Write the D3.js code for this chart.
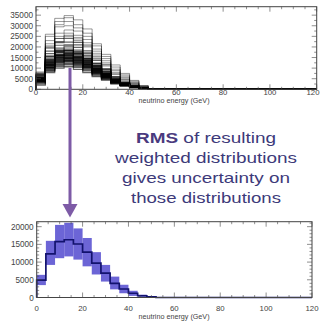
<!DOCTYPE html>
<html>
<head>
<meta charset="utf-8">
<script src="https://cdn.jsdelivr.net/npm/d3@7"></script>
<style>
  body { margin: 0; background: #fff; }
  svg { display: block; }
</style>
</head>
<body>
<svg id="chart" width="320" height="321"></svg>
<script>
// bin edges in GeV (4 GeV bins)
const binEdges = [0, 4, 8, 12, 16, 20, 24, 28, 32, 36, 40, 44, 48, 52];

// top panel: re-weighted universes far from the nominal (bins 0..48 GeV)
const outlierUniverses = [
  [8200, 26000, 33500, 34800, 32800, 28500, 21500, 16500, 11500, 7500, 4200, 1800],
  [7800, 25000, 32000, 33800, 30500, 26500, 20500, 15500, 10500, 6800, 3800, 1600],
  [7500, 23000, 30500, 32000, 29000, 25000, 19000, 14500, 9500, 6200, 3300, 1400],
  [7200, 21500, 29500, 30000, 27500, 23500, 18000, 13500, 8800, 5600, 3000, 1200],
  [6800, 20500, 26500, 28000, 25500, 22000, 17000, 12500, 8000, 5000, 2700, 1100],
  [6600, 19500, 25000, 26500, 24500, 21000, 16200, 11800, 7400, 4600, 2400, 1000],
  [6000, 20000, 24000, 25000, 23800, 20500, 15500, 11500, 7000, 4300, 2200, 900],
  [7200, 19500, 24000, 25500, 23000, 20000, 14800, 11000, 6000, 3800, 1800, 700]
];

// top panel: universes close to the nominal
const coreUniverses = [
  [7000, 18000, 22500, 24000, 22200, 18200, 14300, 9800, 5900, 3400, 1700, 600],
  [6400, 16800, 22000, 22300, 21000, 17500, 13600, 9300, 5600, 3200, 1600, 700],
  [6300, 15700, 20800, 21000, 19800, 16800, 12400, 9100, 5100, 3100, 1500, 600],
  [5800, 15500, 19400, 20400, 18500, 16000, 12100, 8400, 5000, 2900, 1500, 600],
  [5600, 14800, 18600, 19500, 17800, 15300, 11400, 8300, 4700, 2900, 1400, 550],
  [5500, 14000, 18300, 18600, 17500, 14600, 11300, 7800, 4600, 2700, 1350, 550],
  [5300, 14300, 18000, 18400, 17100, 14500, 11000, 7600, 4500, 2680, 1320, 530],
  [5400, 13500, 17800, 18000, 16900, 14000, 10900, 7500, 4400, 2650, 1300, 520],
  [5200, 13800, 17400, 18200, 16700, 14300, 10700, 7700, 4500, 2650, 1300, 500],
  [5100, 13200, 17200, 17500, 16400, 13700, 10500, 7400, 4300, 2600, 1250, 520],
  [5000, 13000, 16500, 17200, 15800, 13500, 10100, 7300, 4200, 2500, 1250, 500],
  [4950, 12800, 16300, 17000, 15600, 13300, 10000, 7100, 4150, 2480, 1230, 500],
  [4800, 12600, 16000, 16700, 15300, 13000, 9900, 7000, 4100, 2450, 1200, 500],
  [4750, 12450, 16000, 16500, 15200, 12900, 9800, 6950, 4050, 2420, 1210, 490],
  [4700, 12300, 15800, 16300, 15100, 12800, 9700, 6900, 4000, 2400, 1200, 480],
  [4600, 12000, 15600, 15900, 14900, 12500, 9500, 6700, 3950, 2350, 1150, 470],
  [4550, 11700, 15300, 15800, 14600, 12400, 9400, 6650, 3870, 2320, 1150, 465],
  [4500, 11900, 15100, 15700, 14400, 12300, 9300, 6600, 3800, 2300, 1150, 460],
  [4400, 11500, 14900, 15200, 14300, 11900, 9200, 6400, 3750, 2250, 1100, 450],
  [4350, 11400, 14700, 15000, 14000, 11800, 9000, 6350, 3720, 2220, 1100, 445],
  [4300, 11300, 14600, 14900, 13800, 11700, 8900, 6300, 3700, 2200, 1100, 440],
  [4200, 11000, 14200, 14600, 13600, 11500, 8700, 6200, 3600, 2150, 1050, 430],
  [4150, 10950, 14000, 14500, 13400, 11350, 8650, 6100, 3550, 2120, 1050, 425],
  [4100, 10900, 13800, 14400, 13200, 11200, 8600, 6000, 3500, 2100, 1050, 420],
  [4000, 10500, 13600, 14000, 13000, 11000, 8300, 5900, 3450, 2050, 1000, 410],
  [3900, 10300, 13200, 13700, 12600, 10700, 8200, 5700, 3350, 2000, 1000, 400],
  [3850, 10200, 13000, 13500, 12500, 10600, 8000, 5650, 3320, 1980, 980, 395],
  [3800, 10100, 12900, 13300, 12400, 10500, 7900, 5600, 3300, 1950, 950, 390],
  [3700, 9900, 12600, 13000, 12000, 10300, 7700, 5500, 3200, 1900, 950, 380],
  [3500, 9500, 12300, 12800, 11700, 10000, 7500, 5300, 3100, 1850, 900, 370],
  [3300, 9200, 11800, 12100, 11300, 9600, 7300, 5100, 3000, 1800, 880, 350],
  [3000, 8900, 11300, 11800, 10800, 9200, 7000, 4900, 2850, 1700, 850, 330],
  [2600, 8500, 10700, 11000, 10300, 8700, 6500, 4600, 2700, 1600, 800, 300],
  [2000, 7900, 10000, 10600, 9400, 7900, 6000, 4300, 2500, 1500, 700, 280]
];

// bottom panel: central value and RMS band (bins 0..52 GeV)
const centralValues = [4900, 12300, 15800, 16300, 15100, 12800, 9700, 6900, 4000, 2400, 1200, 500, 150];
const bandHigh = [6400, 16000, 20500, 21100, 19500, 16800, 12800, 9200, 5900, 3600, 1900, 800, 300];
const bandLow  = [3500, 9200, 11100, 11600, 10700, 8800, 6500, 4500, 2300, 1200, 450, 200, 50];

const xTicks = [0, 20, 40, 60, 80, 100, 120];
const yTicksTop = [0, 5000, 10000, 15000, 20000, 25000, 30000, 35000];
const yTicksBottom = [0, 5000, 10000, 15000, 20000];
const xTitle = "neutrino energy (GeV)";
const noteLines = ["of resulting", "weighted distributions", "gives uncertainty on", "those distributions"];

const svg = d3.select("#chart");
const axisColor = "#444";
const font = "'Liberation Sans', Arial, sans-serif";

function drawFrame(g, x, y, yTicks, yMinorStep, tickDy, titleDy) {
  const [x0, x1] = x.range();
  const [y0, y1] = y.range();
  // inward ticks on all four sides
  const yMax = y.domain()[1];
  for (let v = 0; v <= yMax; v += yMinorStep) {
    const len = yTicks.includes(v) ? 5 : 2.5;
    g.append("line").attr("x1", x0).attr("x2", x0 + len).attr("y1", y(v)).attr("y2", y(v))
      .attr("stroke", axisColor).attr("stroke-width", 0.6);
    g.append("line").attr("x1", x1).attr("x2", x1 - len).attr("y1", y(v)).attr("y2", y(v))
      .attr("stroke", axisColor).attr("stroke-width", 0.6);
  }
  for (let v = 0; v <= 120; v += 5) {
    const len = xTicks.includes(v) ? 5 : 2.5;
    g.append("line").attr("x1", x(v)).attr("x2", x(v)).attr("y1", y0).attr("y2", y0 - len)
      .attr("stroke", axisColor).attr("stroke-width", 0.6);
    g.append("line").attr("x1", x(v)).attr("x2", x(v)).attr("y1", y1).attr("y2", y1 + len)
      .attr("stroke", axisColor).attr("stroke-width", 0.6);
  }
  g.append("rect").attr("x", x0).attr("y", y1).attr("width", x1 - x0).attr("height", y0 - y1)
    .attr("fill", "none").attr("stroke", axisColor).attr("stroke-width", 1);

  g.selectAll(".yl").data(yTicks).join("text")
    .attr("x", x0 - 3).attr("y", d => y(d) + 3)
    .attr("text-anchor", "end").attr("font-family", font).attr("font-size", 8.2)
    .attr("fill", "#444").text(d => d);
  g.selectAll(".xl").data(xTicks).join("text")
    .attr("x", d => Math.min(x(d), 313)).attr("y", y0 + tickDy)
    .attr("text-anchor", "middle").attr("font-family", font).attr("font-size", 7.8)
    .attr("fill", "#444").text(d => d);
  g.append("text").attr("x", 174).attr("y", y0 + titleDy)
    .attr("text-anchor", "middle").attr("font-family", font).attr("font-size", 7.2)
    .attr("fill", "#444").text(xTitle);
}

// step outline from bin values
function stepPoints(values) {
  const pts = [[binEdges[0], 0]];
  values.forEach((v, i) => pts.push([binEdges[i], v]));
  pts.push([binEdges[values.length], 0]);
  pts.push([120, 0]);
  return pts;
}

// ---------- top panel ----------
const xTop = d3.scaleLinear().domain([0, 120]).range([36, 316.7]);
const yTop = d3.scaleLinear().domain([0, 39000]).range([89.3, 6.7]);
const gTop = svg.append("g");

const lineTop = d3.line().x(d => xTop(d[0])).y(d => yTop(d[1])).curve(d3.curveStepAfter);
gTop.selectAll(".out").data(outlierUniverses).join("path")
  .attr("d", d => lineTop(stepPoints(d)))
  .attr("fill", "none").attr("stroke", "#000").attr("stroke-opacity", 0.4).attr("stroke-width", 1);
gTop.selectAll(".core").data(coreUniverses).join("path")
  .attr("d", d => lineTop(stepPoints(d)))
  .attr("fill", "none").attr("stroke", "#000").attr("stroke-opacity", 0.6).attr("stroke-width", 1.2);

drawFrame(gTop, xTop, yTop, yTicksTop, 2500, 5.8, 14);

// ---------- bottom panel ----------
const xBot = d3.scaleLinear().domain([0, 120]).range([36.7, 312]);
const yBot = d3.scaleLinear().domain([0, 21400]).range([297.5, 221.7]);
const gBot = svg.append("g");

gBot.selectAll(".band").data(centralValues).join("rect")
  .attr("x", (d, i) => xBot(binEdges[i]))
  .attr("width", (d, i) => xBot(binEdges[i + 1]) - xBot(binEdges[i]))
  .attr("y", (d, i) => yBot(bandHigh[i]))
  .attr("height", (d, i) => yBot(bandLow[i]) - yBot(bandHigh[i]))
  .attr("fill", "#5c54d2").attr("fill-opacity", 0.9);

const lineBot = d3.line().x(d => xBot(d[0])).y(d => yBot(d[1])).curve(d3.curveStepAfter);
gBot.append("path").attr("d", lineBot(stepPoints(centralValues)))
  .attr("fill", "none").attr("stroke", "#12126e").attr("stroke-width", 1.7);

drawFrame(gBot, xBot, yBot, yTicksBottom, 1000, 13, 21.5);

// ---------- arrow ----------
const arrowColor = "#7d5ba6";
svg.append("line").attr("x1", 70).attr("x2", 70).attr("y1", 68).attr("y2", 207)
  .attr("stroke", arrowColor).attr("stroke-width", 3);
svg.append("path").attr("d", "M62.5,204 L77.5,204 L70,217.5 Z").attr("fill", arrowColor);

// ---------- note text ----------
const noteWidths = [140, 182, 168, 150];
const noteBase = [143.3, 163.2, 183, 202.8];
const note = svg.append("g").attr("font-family", font).attr("font-size", 15).attr("fill", "#3d3a7a");
const l1 = note.append("text").attr("x", 206).attr("y", noteBase[0]).attr("text-anchor", "middle")
  .attr("textLength", noteWidths[0]).attr("lengthAdjust", "spacingAndGlyphs");
l1.append("tspan").attr("font-weight", "bold").attr("fill", "#4a3a7e").text("RMS");
l1.append("tspan").text(" " + noteLines[0]);
noteLines.slice(1).forEach((t, i) => {
  note.append("text").attr("x", 206).attr("y", noteBase[i + 1]).attr("text-anchor", "middle")
    .attr("textLength", noteWidths[i + 1]).attr("lengthAdjust", "spacingAndGlyphs").text(t);
});
</script>
</body>
</html>
